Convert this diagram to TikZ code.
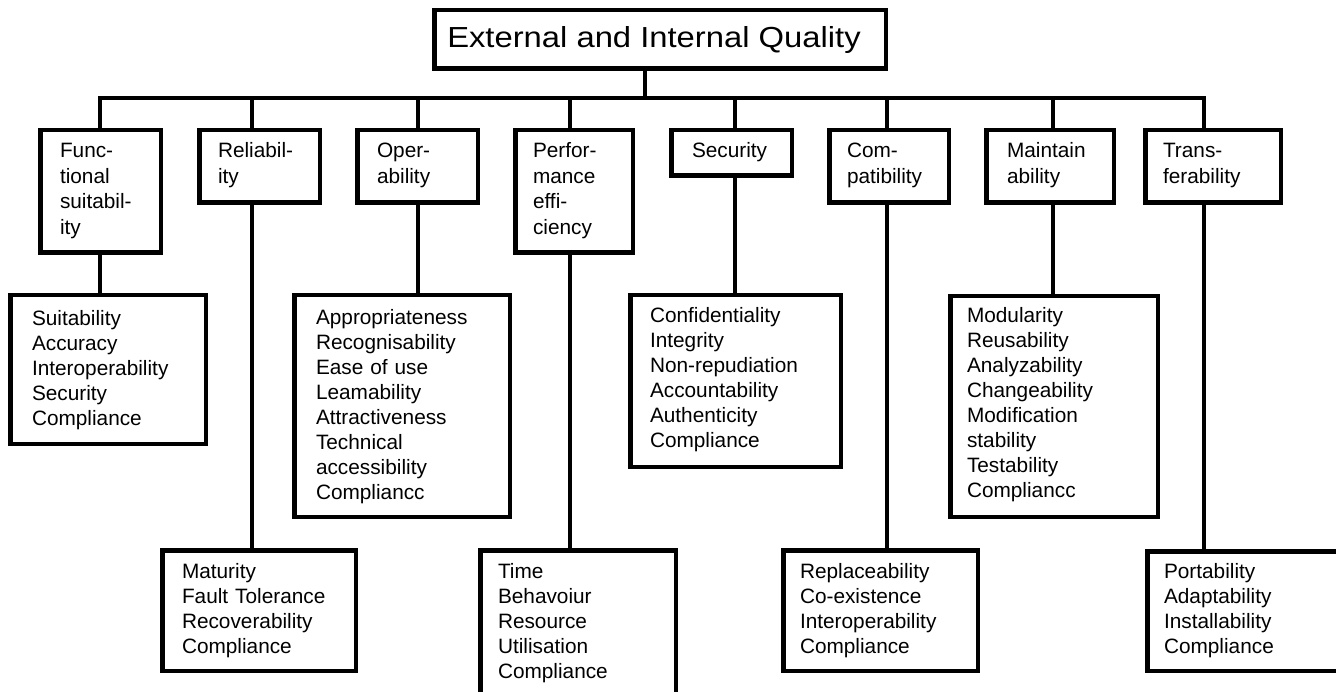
\documentclass[tikz,border=0pt]{standalone}
\usepackage{fontspec}
\setmainfont{Liberation Sans}
\newcommand\qframe[5]{%
  \node[qbox, minimum width={(#4-#2)*1pt-4.5pt}, minimum height={(#5-#3)*1pt-4.5pt}]
    (#1) at ({(#2+#4)/2},{(#3+#5)/2}) {};}
\tikzset{
  qbox/.style={draw, line width=4.5pt, fill=white, rectangle, inner sep=0pt, outer sep=0pt},
  conn/.style={line width=4pt, line join=miter},
  qtext/.style={anchor=base west, inner sep=0pt, outer sep=0pt, text width=260pt, align=left,
    font=\fontsize{20.8}{25}\selectfont},
  qhead/.style={qtext, font=\fontsize{20.8}{25.5}\selectfont},
}
\begin{document}
\begin{tikzpicture}[x=1pt, y=-1pt]
\clip (0,0) rectangle (1336,692);
\fill[white] (0,0) rectangle (1336,692);

% root
\qframe{root}{432}{8}{888}{71}
\node[anchor=base, inner sep=0pt, font=\fontsize{29}{34}\selectfont] (roott) at (654,48)
  {\scalebox{1.13}[1]{External and Internal Quality}};

% characteristics
\qframe{c1}{38}{128}{163}{255}
\qframe{c2}{197}{128}{322}{205}
\qframe{c3}{355}{128}{480}{205}
\qframe{c4}{513}{128}{635}{255}
\qframe{c5}{669}{128}{794}{178}
\qframe{c6}{827}{128}{951}{205}
\qframe{c7}{984}{128}{1116}{205}
\qframe{c8}{1143}{128}{1283}{205}

\node[qhead] (c1t) at (60,158) {Func-\\tional\\suitabil-\\ity};
\node[qhead] (c2t) at (218,158) {Reliabil-\\ity};
\node[qhead] (c3t) at (377,158) {Oper-\\ability};
\node[qhead] (c4t) at (533,158) {Perfor-\\mance\\effi-\\ciency};
\node[qhead] (c5t) at (692,158) {Security};
\node[qhead] (c6t) at (847,158) {Com-\\patibility};
\node[qhead] (c7t) at (1007,158) {Maintain\\ability};
\node[qhead] (c8t) at (1163,158) {Trans-\\ferability};

% sub-characteristics
\qframe{sA}{8}{293}{208}{446}
\qframe{sB}{292}{293}{512}{519}
\qframe{sC}{628}{293}{843}{469}
\qframe{sD}{948}{294}{1160}{519}
\qframe{sE}{160}{548}{358}{673}
\qframe{sF}{478}{548}{678}{730}
\qframe{sG}{781}{548}{980}{673}
\qframe{sH}{1145}{549}{1370}{673}

\node[qtext] (sAt) at (32,326) {Suitability\\Accuracy\\Interoperability\\Security\\Compliance};
\node[qtext] (sBt) at (316,325) {Appropriateness\\Recognisability\\Ease of use\\Leamability\\Attractiveness\\Technical\\accessibility\\Compliancc};
\node[qtext] (sCt) at (650,323) {Confidentiality\\Integrity\\Non-repudiation\\Accountability\\Authenticity\\Compliance};
\node[qtext] (sDt) at (967,323) {Modularity\\Reusability\\Analyzability\\Changeability\\Modification\\stability\\Testability\\Compliancc};
\node[qtext] (sEt) at (182,578) {Maturity\\Fault Tolerance\\Recoverability\\Compliance};
\node[qtext] (sFt) at (498,578) {Time\\Behavoiur\\Resource\\Utilisation\\Compliance};
\node[qtext] (sGt) at (800,578) {Replaceability\\Co-existence\\Interoperability\\Compliance};
\node[qtext] (sHt) at (1164,578) {Portability\\Adaptability\\Installability\\Compliance};

% connector columns
\coordinate (b1) at (100,98);
\coordinate (b2) at (252,98);
\coordinate (b3) at (418,98);
\coordinate (b4) at (570,98);
\coordinate (b5) at (735,98);
\coordinate (b6) at (887,98);
\coordinate (b7) at (1053,98);
\coordinate (b8) at (1204,98);
\coordinate (b0) at (645,98);

\draw[conn] (b0 |- root.south) -- (b0);
\draw[conn] (b1 |- c1.north) -- (b1) -- (b8) -- (b8 |- c8.north);
\draw[conn] (b2) -- (b2 |- c2.north);
\draw[conn] (b3) -- (b3 |- c3.north);
\draw[conn] (b4) -- (b4 |- c4.north);
\draw[conn] (b5) -- (b5 |- c5.north);
\draw[conn] (b6) -- (b6 |- c6.north);
\draw[conn] (b7) -- (b7 |- c7.north);

\draw[conn] (b1 |- c1.south) -- (b1 |- sA.north);
\draw[conn] (b2 |- c2.south) -- (b2 |- sE.north);
\draw[conn] (b3 |- c3.south) -- (b3 |- sB.north);
\draw[conn] (b4 |- c4.south) -- (b4 |- sF.north);
\draw[conn] (b5 |- c5.south) -- (b5 |- sC.north);
\draw[conn] (b6 |- c6.south) -- (b6 |- sG.north);
\draw[conn] (b7 |- c7.south) -- (b7 |- sD.north);
\draw[conn] (b8 |- c8.south) -- (b8 |- sH.north);
\end{tikzpicture}
\end{document}
